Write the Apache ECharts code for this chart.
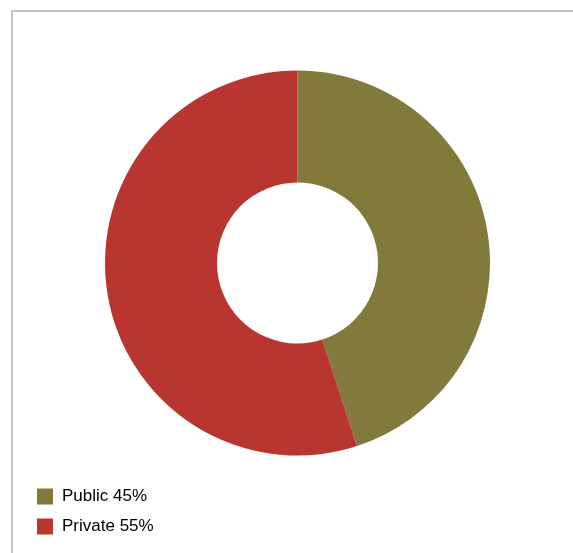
<!DOCTYPE html>
<html>
<head>
<meta charset="utf-8">
<script src="https://cdn.jsdelivr.net/npm/echarts@6/dist/echarts.min.js"></script>
<style>
html,body{margin:0;padding:0;background:#fff;}
#chart{width:573px;height:553px;}
</style>
</head>
<body>
<div id="chart"></div>
<script>
var categories = ['Public 45%', 'Private 55%'];
var values = [45, 55];
var colors = ['#817a3b', '#b83530'];

var chart = echarts.init(document.getElementById('chart'));
chart.setOption({
  animation: false,
  color: colors,
  graphic: [
    {type: 'line', shape: {x1: 11, y1: 11, x2: 573, y2: 11}, style: {stroke: '#c4c4c4', lineWidth: 2}},
    {type: 'line', shape: {x1: 12, y1: 10, x2: 12, y2: 553}, style: {stroke: '#c4c4c4', lineWidth: 2}}
  ],
  legend: {
    orient: 'vertical',
    left: 37,
    top: 488,
    padding: 0,
    itemWidth: 16,
    itemHeight: 16,
    itemGap: 13,
    icon: 'rect',
    textStyle: {fontFamily: 'Liberation Sans', fontSize: 17, color: '#000', padding: [0,0,0,4]},
    data: categories
  },
  series: [{
    type: 'pie',
    center: [297.5, 263],
    radius: [80.5, 192.5],
    startAngle: 90,
    clockwise: true,
    label: {show: false},
    labelLine: {show: false},
    emphasis: {disabled: true},
    data: categories.map(function(c, i){ return {name: c, value: values[i]}; })
  }]
});
</script>
</body>
</html>
